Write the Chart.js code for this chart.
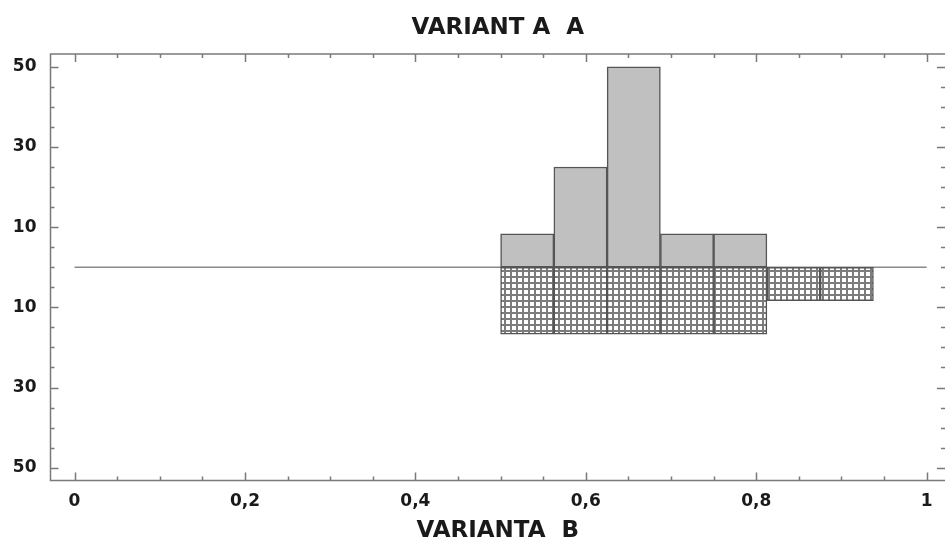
<!DOCTYPE html>
<html>
<head>
<meta charset="utf-8">
<script src="https://cdn.jsdelivr.net/npm/chart.js@4/dist/chart.umd.min.js"></script>
<style>
  body { margin: 0; background: #fff; }
  canvas { display: block; }
</style>
</head>
<body>
<canvas id="histo" width="945" height="544"></canvas>
<script>
// Histogram dua arah: Varianta A di atas, Varianta B di bawah (frekuensi relatif, %)
const binStarts = [0.5, 0.5625, 0.625, 0.6875, 0.75, 0.8125, 0.875];
const binWidth = 0.0625;
const variantaA = [8.33, 25, 50, 8.33, 8.33, null, null];
const variantaB = [16.67, 16.67, 16.67, 16.67, 16.67, 8.33, 8.33];

const baselineX = [0, 1];

const xTicks = [0, 0.2, 0.4, 0.6, 0.8, 1];
const xTickLabels = ["0", "0,2", "0,4", "0,6", "0,8", "1"];
const xMinorStep = 0.05;

const yTicks = [50, 30, 10, -10, -30, -50];
const yTickLabels = ["50", "30", "10", "10", "30", "50"];
const yMinorStep = 5;

const FONT = "'DejaVu Sans', 'Liberation Sans', sans-serif";

// pola kotak-kotak untuk batang Varianta B
function gridPattern() {
  const c = document.createElement("canvas");
  c.width = 6;
  c.height = 6;
  const g = c.getContext("2d");
  g.fillStyle = "#ffffff";
  g.fillRect(0, 0, 6, 6);
  g.fillStyle = "#7c7c7c";
  g.fillRect(0, 0, 6, 2);
  g.fillRect(0, 0, 2, 6);
  return g.createPattern(c, "repeat");
}

// bingkai + tick ke dalam (atas, bawah, kiri, kanan)
const framePlugin = {
  id: "frame",
  afterDatasetsDraw(chart) {
    const { ctx, chartArea: a, scales } = chart;
    const x = scales.x, y = scales.y;
    ctx.save();
    ctx.strokeStyle = "#7a7a7a";
    ctx.lineWidth = 1.5;
    ctx.beginPath();
    ctx.moveTo(a.right, a.top);
    ctx.lineTo(a.left, a.top);
    ctx.lineTo(a.left, a.bottom);
    ctx.lineTo(a.right, a.bottom);

    const nx = Math.round((xTicks[xTicks.length - 1] - xTicks[0]) / xMinorStep);
    for (let i = 0; i <= nx; i++) {
      const v = xTicks[0] + i * xMinorStep;
      const len = xTicks.some(t => Math.abs(t - v) < 1e-6) ? 8 : 4;
      const px = Math.round(x.getPixelForValue(v)) + 0.5;
      ctx.moveTo(px, a.top);
      ctx.lineTo(px, a.top + len);
      ctx.moveTo(px, a.bottom);
      ctx.lineTo(px, a.bottom - len);
    }

    const yMax = Math.max(...yTicks);
    const ny = Math.round((2 * yMax) / yMinorStep);
    for (let i = 0; i <= ny; i++) {
      const v = -yMax + i * yMinorStep;
      const len = yTicks.includes(v) ? 8 : 4;
      const py = Math.round(y.getPixelForValue(v)) + 0.5;
      ctx.moveTo(a.left, py);
      ctx.lineTo(a.left + len, py);
      ctx.moveTo(a.right, py);
      ctx.lineTo(a.right - len, py);
    }
    ctx.stroke();
    ctx.restore();
  }
};

const ctx = document.getElementById("histo").getContext("2d");
const pattern = gridPattern();

new Chart(ctx, {
  type: "bar",
  data: {
    datasets: [
      {
        label: "Varianta A",
        data: binStarts.map((s, i) => ({ x: s + binWidth / 2, y: variantaA[i] })),
        backgroundColor: "#c0c0c0",
        borderColor: "#555555",
        borderWidth: 1.5,
        borderSkipped: false,
        barPercentage: 1,
        categoryPercentage: 1,
        grouped: false,
        order: 1,
      },
      {
        label: "Varianta B",
        data: binStarts.map((s, i) => ({ x: s + binWidth / 2, y: -variantaB[i] })),
        backgroundColor: pattern,
        borderColor: "#555555",
        borderWidth: 1.5,
        borderSkipped: false,
        barPercentage: 1,
        categoryPercentage: 1,
        grouped: false,
        order: 1,
      },
      {
        type: "line",
        label: "nol",
        data: baselineX.map(v => ({ x: v, y: 0 })),
        borderColor: "#8a8a8a",
        borderWidth: 1.5,
        pointRadius: 0,
        order: 3,
      },
    ],
  },
  options: {
    responsive: false,
    animation: false,
    layout: { padding: 0 },
    plugins: {
      legend: { display: false },
      tooltip: { enabled: false },
      title: {
        display: true,
        text: "VARIANT A  A",
        fullSize: false,
        color: "#1a1a1a",
        font: { family: FONT, size: 23, weight: "bold", lineHeight: 1 },
        padding: { top: 17, bottom: 14 },
      },
    },
    scales: {
      x: {
        type: "linear",
        offset: false,
        min: -0.0282,
        max: 1.0215,
        afterBuildTicks: s => { s.ticks = xTicks.map(v => ({ value: v })); },
        afterFit: s => { s.height = 63.5; },
        grid: { display: false, drawTicks: false, offset: false },
        border: { display: false },
        ticks: {
          padding: 11,
          color: "#1a1a1a",
          font: { family: FONT, size: 17, weight: "bold" },
          callback: (v, i) => xTickLabels[i],
        },
        title: {
          display: true,
          text: "VARIANTA  B",
          color: "#1a1a1a",
          font: { family: FONT, size: 23, weight: "bold", lineHeight: 1 },
          padding: { top: 0, bottom: 1 },
        },
      },
      y: {
        type: "linear",
        min: -53.2,
        max: 53.2,
        afterBuildTicks: s => { s.ticks = yTicks.map(v => ({ value: v })); },
        afterFit: s => { s.width = 50.5; },
        grid: { display: false, drawTicks: false },
        border: { display: false },
        ticks: {
          padding: 14,
          color: "#1a1a1a",
          font: { family: FONT, size: 17, weight: "bold" },
          callback: (v, i) => yTickLabels[i],
        },
      },
    },
  },
  plugins: [framePlugin],
});
</script>
</body>
</html>
